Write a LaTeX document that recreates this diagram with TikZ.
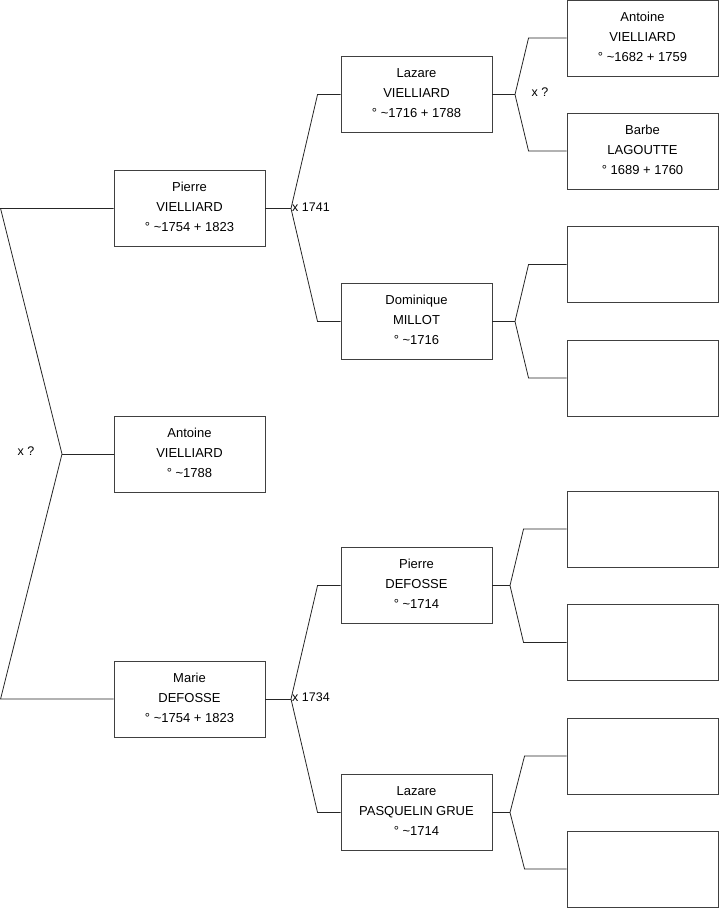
\documentclass[tikz,border=0pt]{standalone}
\usepackage{fontspec}
\setmainfont{Liberation Sans}
\begin{document}
\begin{tikzpicture}[x=1pt,y=-1pt,
  box/.style={draw=black!75,line width=0.9pt,minimum width=151pt,minimum height=76pt,inner sep=0pt,align=center,text depth=3.4pt,font=\fontsize{13}{20}\selectfont},
  con/.style={draw=black!85,line width=0.8pt},
  lbl/.style={font=\fontsize{12.5}{14}\selectfont,inner sep=0pt}]
\useasboundingbox (0,0) rectangle (719,908);
% generation 1
\node[box] (p) at (189.5,208.5) {Pierre\\VIELLIARD\\° \textasciitilde1754 + 1823};
\node[box] (a) at (189.5,454) {Antoine\\VIELLIARD\\° \textasciitilde1788};
\node[box] (m) at (189.5,699) {Marie\\DEFOSSE\\° \textasciitilde1754 + 1823};
% generation 2
\node[box] (l) at (416.5,94.5) {Lazare\\VIELLIARD\\° \textasciitilde1716 + 1788};
\node[box] (d) at (416.5,321.5) {Dominique\\MILLOT\\° \textasciitilde1716};
\node[box] (pd) at (416.5,585.5) {Pierre\\DEFOSSE\\° \textasciitilde1714};
\node[box] (lp) at (416.5,812.5) {Lazare\\PASQUELIN GRUE\\° \textasciitilde1714};
% generation 3
\node[box] (r1) at (642.5,38) {Antoine\\VIELLIARD\\° \textasciitilde1682 + 1759};
\node[box] (r2) at (642.5,151) {Barbe\\LAGOUTTE\\° 1689 + 1760};
\node[box] (r3) at (642.5,264.5) {};
\node[box] (r4) at (642.5,378) {};
\node[box] (r5) at (642.5,529) {};
\node[box] (r6) at (642.5,642.5) {};
\node[box] (r7) at (642.5,756) {};
\node[box] (r8) at (642.5,869) {};
% left fork
\coordinate (f0) at (62,454);
\draw[con] (p.west) -- ++(-113,0) -- (f0) -- ([xshift=-113pt]m.west) -- (m.west);
\draw[con] (f0) -- (a.west);
\node[lbl] (x0) at (26,451) {x ?};
% second level forks
\coordinate (f1) at (291,208.5);
\draw[con] (p.east) -- (f1);
\draw[con] (l.west) -- ++(-23,0) -- (f1) -- ([xshift=-23pt]d.west) -- (d.west);
\node[lbl,anchor=west] (x1) at (292,207) {x 1741};
\coordinate (f2) at (291,699);
\draw[con] (m.east) -- (f2);
\draw[con] (pd.west) -- ++(-23,0) -- (f2) -- ([xshift=-23pt]lp.west) -- (lp.west);
\node[lbl,anchor=west] (x2) at (292,697) {x 1734};
% third level forks
\coordinate (f3) at (515,94.5);
\draw[con] (l.east) -- (f3);
\draw[con] (r1.west) -- ++(-38,0) -- (f3) -- ([xshift=-38pt]r2.west) -- (r2.west);
\node[lbl] (x3) at (540,92) {x ?};
\coordinate (f4) at (515,321.5);
\draw[con] (d.east) -- (f4);
\draw[con] (r3.west) -- ++(-38,0) -- (f4) -- ([xshift=-38pt]r4.west) -- (r4.west);
\coordinate (f5) at (510,585.5);
\draw[con] (pd.east) -- (f5);
\draw[con] (r5.west) -- ++(-43,0) -- (f5) -- ([xshift=-43pt]r6.west) -- (r6.west);
\coordinate (f6) at (510,812.5);
\draw[con] (lp.east) -- (f6);
\draw[con] (r7.west) -- ++(-42,0) -- (f6) -- ([xshift=-42pt]r8.west) -- (r8.west);
\end{tikzpicture}
\end{document}
